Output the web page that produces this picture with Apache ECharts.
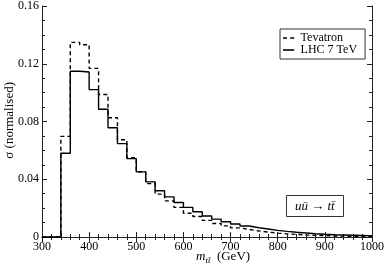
<!DOCTYPE html>
<html><head><meta charset="utf-8">
<script src="https://cdn.jsdelivr.net/npm/echarts@6/dist/echarts.min.js"></script>
<style>html,body{margin:0;padding:0;background:#fff}#c{width:387px;height:270px}</style>
</head><body><div id="c"></div>
<script>
// bin edges of m_tt (GeV)
const binEdges = [340,360,380,400,420,440,460,480,500,520,540,560,580,600,620,640,660,680,700,720,740,760,780,800,820,840,860,880,900,920,940,960,980,1000];
// normalised sigma per bin
const tevatron = [0.0697,0.1348,0.1332,0.1168,0.0987,0.0826,0.0674,0.0549,0.0452,0.0370,0.0297,0.0250,0.0205,0.0165,0.0142,0.0115,0.0093,0.0077,0.0063,0.0052,0.0042,0.0034,0.0027,0.0022,0.0018,0.0014,0.0011,0.0009,0.0007,0.0006,0.0005,0.0004,0.0003];
const lhc7 = [0.0580,0.1148,0.1143,0.1021,0.0885,0.0757,0.0647,0.0543,0.0451,0.0382,0.0320,0.0278,0.0239,0.0205,0.0175,0.0145,0.0124,0.0106,0.0090,0.0076,0.0064,0.0055,0.0046,0.0039,0.0033,0.0028,0.0023,0.0019,0.0016,0.0014,0.0012,0.0010,0.0008];
const xTicks = [300,400,500,600,700,800,900,1000];
const yTicks = [0,0.04,0.08,0.12,0.16];

function steps(vals){
  const pts = [[xTicks[0],0],[binEdges[0],0]];
  vals.forEach((v,i)=>{ pts.push([binEdges[i],v]); pts.push([binEdges[i+1],v]); });
  return pts;
}
const F = 'Liberation Serif, DejaVu Serif, serif';
const chart = echarts.init(document.getElementById('c'), null, {renderer:'canvas'});
const axisCommon = {
  axisLine:{show:true,lineStyle:{color:'#222',width:1}},
  splitLine:{show:false}
};
chart.setOption({
  animation:false,
  backgroundColor:'#fff',
  grid:{left:42,right:14,top:5,bottom:33,containLabel:false},
  xAxis:[
    Object.assign({type:'value',min:xTicks[0],max:xTicks[xTicks.length-1],interval:100,position:'bottom',
      axisTick:{inside:true,length:5,lineStyle:{color:'#222'}},
      minorTick:{show:true,splitNumber:5,length:3,lineStyle:{color:'#222'}},
      axisLabel:{fontFamily:F,fontSize:12,color:'#000',margin:4,formatter:v=>String(v)}},axisCommon),
    Object.assign({type:'value',min:xTicks[0],max:xTicks[xTicks.length-1],interval:100,position:'top',
      axisTick:{inside:true,length:5,lineStyle:{color:'#222'}},
      minorTick:{show:true,splitNumber:5,length:3,lineStyle:{color:'#222'}},
      axisLabel:{show:false}},axisCommon)
  ],
  yAxis:[
    Object.assign({type:'value',min:yTicks[0],max:yTicks[yTicks.length-1],interval:0.04,position:'left',
      axisTick:{inside:true,length:5,lineStyle:{color:'#222'}},
      minorTick:{show:true,splitNumber:4,length:3,lineStyle:{color:'#222'}},
      axisLabel:{fontFamily:F,fontSize:12,color:'#000',margin:3,formatter:v=>v===0?'0':v.toFixed(2)}},axisCommon),
    Object.assign({type:'value',min:yTicks[0],max:yTicks[yTicks.length-1],interval:0.04,position:'right',
      axisTick:{inside:true,length:5,lineStyle:{color:'#222'}},
      minorTick:{show:true,splitNumber:4,length:3,lineStyle:{color:'#222'}},
      axisLabel:{show:false}},axisCommon)
  ],
  legend:{
    orient:'vertical',left:280,top:29,
    borderColor:'#333',borderWidth:1,padding:[3,8,3,3],
    itemWidth:14,itemHeight:1.6,itemGap:0,
    textStyle:{fontFamily:F,fontSize:12,color:'#000',padding:[0,0,0,0]},
    data:[
      {name:'Tevatron',icon:'path://M0,0h5v2h-5zM9,0h5v2h-5z'},
      {name:'LHC 7 TeV',icon:'path://M0,0h14v2h-14z'}
    ]
  },
  title:{
    left:286,top:195,
    borderColor:'#333',borderWidth:1,padding:[5,9,4,9],
    text:'{i|u\u016B} \u2192 {i|tt\u0304}',
    textStyle:{fontFamily:F,fontSize:13,fontWeight:'normal',color:'#000',
      rich:{i:{fontFamily:F,fontSize:13,fontStyle:'italic',color:'#000'}}}
  },
  graphic:[
    {type:'text',left:3,top:82,rotation:Math.PI/2,
      style:{text:'\u03C3 (normalised)',font:'13px Liberation Serif',fill:'#000'}},
    {type:'text',left:196,top:250,
      style:{text:'{i|m}{s|tt\u0304}  (GeV)',font:'13px Liberation Serif',fill:'#000',
        rich:{i:{fontFamily:F,fontSize:13,fontStyle:'italic'},s:{fontFamily:F,fontSize:9,fontStyle:'italic',padding:[8,0,0,0]}}}}
  ],
  series:[
    {name:'Tevatron',type:'line',data:steps(tevatron),symbol:'none',showSymbol:false,
      lineStyle:{color:'#000',width:1.4,type:[4,3]},itemStyle:{color:'#000'}},
    {name:'LHC 7 TeV',type:'line',data:steps(lhc7),symbol:'none',showSymbol:false,
      lineStyle:{color:'#000',width:1.4},itemStyle:{color:'#000'}}
  ]
});
</script></body></html>
